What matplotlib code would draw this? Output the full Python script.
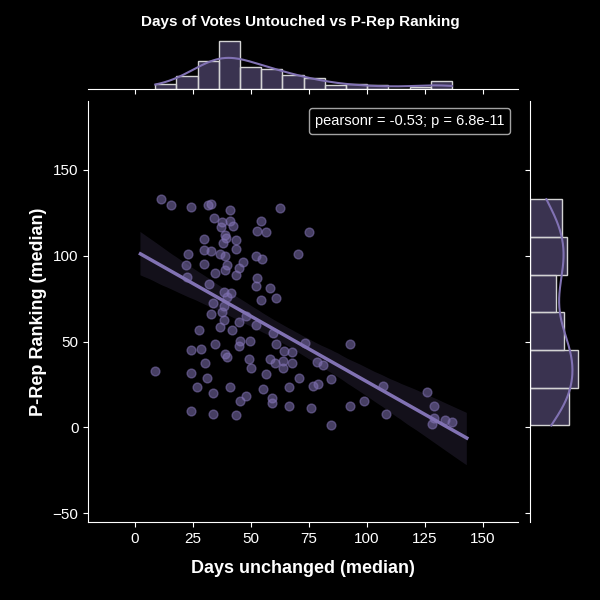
import numpy as np
import pandas as pd
import matplotlib
matplotlib.use("Agg")
import matplotlib.pyplot as plt
import seaborn as sns

days = [11.2, 15.8, 24.5, 31.4, 33.0, 41.1, 62.7, 34.2, 37.6, 40.9, 37.3, 42.2, 54.4, 52.9, 56.7, 75.1,
        39.1, 39.4, 29.9, 43.7, 37.9, 43.7, 29.9, 33.0, 23.2, 36.8, 39.1, 52.1, 54.9, 70.5, 46.8, 22.2,
        29.9, 39.9, 45.0, 39.1, 34.5, 43.7, 52.6, 22.7, 32.2, 52.1, 58.3, 38.4, 41.4, 39.9, 61.1, 54.4,
        33.7, 38.4, 37.6, 33.0, 48.0, 38.4, 45.0, 36.8, 41.9, 52.3, 27.6, 59.8, 45.3, 49.8, 34.5, 45.0,
        60.9, 73.6, 92.8, 24.1, 28.7, 64.4, 68.0, 39.1, 39.9, 49.1, 58.3, 30.2, 60.3, 63.9, 68.0, 78.7,
        81.3, 8.9, 24.5, 50.2, 63.9, 56.7, 71.0, 84.8, 31.1, 26.8, 41.1, 55.2, 66.7, 76.7, 79.0, 33.7,
        48.0, 45.6, 59.0, 59.0, 92.8, 66.4, 75.9, 24.1, 33.7, 43.7, 84.8,
        98.9, 108.5, 106.8, 126.1, 128.9, 128.9, 133.9, 136.7, 127.9]
ranking = [132.8, 129.5, 128.3, 129.5, 130.3, 126.6, 127.8, 121.7, 119.7, 120.4, 116.4, 117.0, 120.4, 114.3, 113.9, 113.5,
           111.9, 110.2, 109.4, 108.8, 107.4, 104.1, 103.3, 102.6, 101.2, 101.2, 99.6, 100.0, 98.3, 101.2, 96.5, 94.4,
           95.1, 94.4, 93.0, 91.4, 89.7, 88.9, 86.8, 87.3, 83.6, 82.2, 81.1, 78.7, 78.1, 76.0, 75.4, 74.4,
           72.5, 70.9, 67.2, 66.2, 65.1, 62.7, 61.6, 58.6, 57.0, 59.6, 56.5, 54.9, 50.4, 50.4, 48.7, 47.3,
           48.7, 49.4, 48.4, 45.3, 45.9, 44.7, 43.8, 42.6, 41.2, 40.1, 40.1, 37.7, 37.3, 38.5, 37.3, 38.1,
           36.1, 33.0, 31.5, 34.4, 34.4, 30.9, 28.9, 28.3, 28.9, 23.8, 23.4, 22.1, 23.4, 24.2, 25.4, 20.1,
           18.4, 15.6, 17.2, 14.0, 12.5, 12.3, 11.1, 9.4, 7.8, 7.4, 1.2,
           15.4, 8.0, 24.0, 20.9, 12.3, 5.5, 4.3, 3.1, 1.8]

xcol = "Days unchanged (median)"
ycol = "P-Rep Ranking (median)"
df = pd.DataFrame({xcol: days, ycol: ranking})

plt.style.use("dark_background")
plt.rcParams["font.family"] = ["Liberation Sans", "DejaVu Sans"]
purple = "#8172b3"

g = sns.JointGrid(data=df, x=xcol, y=ycol, height=6, ratio=7, space=0.25)
g.plot_joint(sns.regplot, color=purple, truncate=False,
             scatter_kws={"alpha": 0.55, "s": 40}, line_kws={"lw": 2.5})
sns.histplot(data=df, x=xcol, bins=14, kde=True, color=purple, edgecolor="lightgray",
             alpha=0.45, ax=g.ax_marg_x)
sns.histplot(data=df, y=ycol, bins=6, kde=True, color=purple, edgecolor="lightgray",
             alpha=0.45, ax=g.ax_marg_y)

ax = g.ax_joint
ax.set_xlim(-20, 165)
ax.set_ylim(-55, 190)
ax.set_xticks([0, 25, 50, 75, 100, 125, 150])
ax.set_yticks([-50, 0, 50, 100, 150])
ax.tick_params(labelsize=11)
ax.set_xlabel(xcol, fontsize=13, fontweight="bold", labelpad=10)
ax.set_ylabel(ycol, fontsize=13, fontweight="bold")
ax.plot([], [], " ", label="pearsonr = -0.53; p = 6.8e-11")
ax.legend(loc="upper right", handlelength=0, handletextpad=0, fontsize=10.5)

g.fig.set_size_inches(6, 6)
g.fig.suptitle("Days of Votes Untouched vs P-Rep Ranking", fontsize=11, fontweight="bold", y=0.975)
g.fig.subplots_adjust(left=0.147, right=0.968, bottom=0.13, top=0.935)
g.fig.savefig("out.png", dpi=100, facecolor="black")
